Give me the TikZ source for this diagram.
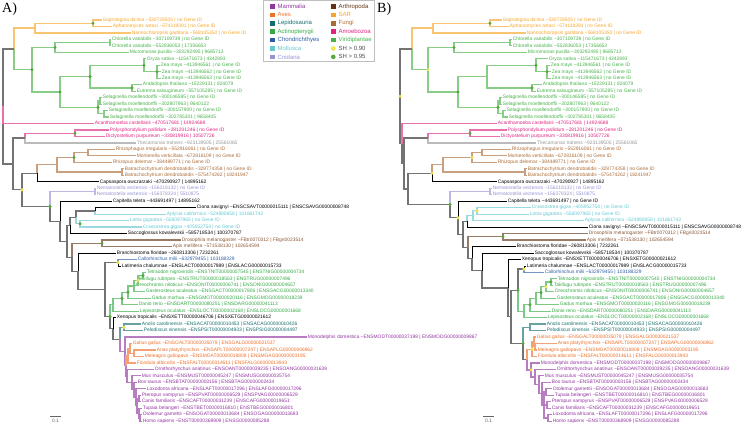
\documentclass[tikz,border=0pt]{standalone}
\usepackage{fontspec}
\setmainfont{Liberation Sans}
\newfontfamily\panelfont{Liberation Serif}
\usetikzlibrary{calc}

\definecolor{mamC}{RGB}{146,54,160}
\definecolor{aveC}{RGB}{238,112,42}
\definecolor{lepC}{RGB}{22,110,108}
\definecolor{actC}{RGB}{52,170,70}
\definecolor{choC}{RGB}{44,92,168}
\definecolor{molC}{RGB}{100,200,210}
\definecolor{cniC}{RGB}{150,148,210}
\definecolor{artC}{RGB}{96,52,20}
\definecolor{artT}{RGB}{140,90,55}
\definecolor{sarC}{RGB}{246,166,40}
\definecolor{funC}{RGB}{172,108,56}
\definecolor{amoC}{RGB}{224,36,128}
\definecolor{virC}{RGB}{70,178,72}
\definecolor{theC}{RGB}{150,150,150}
\definecolor{shyC}{RGB}{240,228,70}
\definecolor{shgC}{RGB}{88,168,60}

\newcommand\tld{\textasciitilde}
% leaf: name, tip x, row, colour, text
\newcommand\lfnode[5]{\node[lf,text=#4] (#1) at (#2,{20+(#3-1)*6.47}) {#5};}
% inner node: name, x, first child, last child
\newcommand\innode[4]{\path let \p1=($(#3)!.5!(#4)$) in coordinate (#1) at (#2pt,\y1);}
% elbow branches from a parent to its children
\newcommand\brs[3]{\foreach \kid in {#3}{\draw[#1] (#2) |- (\kid);}}
\newcommand\dotg[1]{\fill[shgC] (#1) circle (1.7pt);}
\newcommand\doty[1]{\fill[shyC] (#1) circle (1.7pt);}

\begin{document}
\begin{tikzpicture}[x=1pt, y=-1pt,
  lf/.style={anchor=west, inner sep=0.7pt, font=\fontsize{4.9}{5}\selectfont},
  bb/.style={draw=black!55, line width=1.3pt},
  lk/.style={draw=black, line width=0.7pt},
  ce/.style={draw=#1!65!white, line width=1.2pt},
  lg/.style={anchor=west, inner sep=0pt, font=\fontsize{6}{6}\selectfont},
  panel/.style={anchor=north west, inner sep=0pt, font=\panelfont\fontsize{14}{14}\selectfont}]
\useasboundingbox (0,0) rectangle (748,426);

% ---------------- tree A: leaves
\lfnode{asap}{102}{1}{sarC}{Saprolegnia diclina \tld530728505 | no Gene ID}
\lfnode{aaph}{112}{2}{sarC}{Aphanomyces astaci \tld574118391 | no Gene ID}
\lfnode{anan}{131}{3}{sarC}{Nannochloropsis gaditana \tld568105350 | no Gene ID}
\lfnode{achl1}{111}{4}{virC}{Chlorella variabilis \tld307109739 | no Gene ID}
\lfnode{achl2}{111}{5}{virC}{Chlorella variabilis \tld552836053 | 17356653}
\lfnode{amic}{129}{6}{virC}{Micromonas pusilla \tld303292495 | 9685713}
\lfnode{aory}{146}{7}{virC}{Oryza sativa \tld115471673 | 4342893}
\lfnode{azea1}{160}{8}{virC}{Zea mays \tld413946561 | no Gene ID}
\lfnode{azea2}{161}{9}{virC}{Zea mays \tld413946562 | no Gene ID}
\lfnode{azea3}{161}{10}{virC}{Zea mays \tld413946563 | no Gene ID}
\lfnode{aara}{142}{11}{virC}{Arabidopsis thaliana \tld15229131 | 824079}
\lfnode{aeut}{136}{12}{virC}{Eutrema salsugineum \tld557105285 | no Gene ID}
\lfnode{asel1}{102}{13}{virC}{Selaginella moellendorffii \tld300146595 | no Gene ID}
\lfnode{asel2}{102}{14}{virC}{Selaginella moellendorffii \tld302807963 | 9640122}
\lfnode{asel3}{108}{15}{virC}{Selaginella moellendorffii \tld300157900 | no Gene ID}
\lfnode{asel4}{109}{16}{virC}{Selaginella moellendorffii \tld302785301 | 9658405}
\lfnode{aaca}{94}{17}{amoC}{Acanthamoeba castellanii \tld470517681 | 14924688}
\lfnode{apol}{109}{18}{amoC}{Polysphondylium pallidum \tld281201246 | no Gene ID}
\lfnode{adic}{105}{19}{amoC}{Dictyostelium purpureum \tld330819916 | 10507726}
\lfnode{athe}{136}{20}{theC}{Thecamonas trahens \tld923139505 | 25561065}
\lfnode{arhi}{115}{21}{funC}{Rhizophagus irregularis \tld552916061 | no Gene ID}
\lfnode{amor}{136}{22}{funC}{Mortierella verticillata \tld672816109 | no Gene ID}
\lfnode{arde}{112}{23}{funC}{Rhizopus delemar \tld384489771 | no Gene ID}
\lfnode{abat1}{124}{24}{funC}{Batrachochytrium dendrobatidis \tld328774358 | no Gene ID}
\lfnode{abat2}{124}{25}{funC}{Batrachochytrium dendrobatidis \tld575474262 | 18241947}
\lfnode{acap}{99}{26}{black}{Capsaspora owczarzaki \tld470290927 | 14895162}
\lfnode{anem1}{96}{27}{cniC}{Nematostella vectensis \tld156218132 | no Gene ID}
\lfnode{anem2}{96}{28}{cniC}{Nematostella vectensis \tld156378324 | 5510875}
\lfnode{acpt}{112}{29}{black}{Capitella teleta \tld443691497 | 14895162}
\lfnode{acio}{196}{30}{black}{Ciona savignyi \tld ENSCSAVT00000015111 | ENSCSAVG00000008748}
\lfnode{aapl}{166}{31}{molC}{Aplysia californica \tld524890858 | 101861742}
\lfnode{alot}{129}{32}{molC}{Lottia gigantea \tld556097965 | no Gene ID}
\lfnode{acra}{142}{33}{molC}{Crassostrea gigas \tld405952754 | no Gene ID}
\lfnode{asac}{127}{34}{black}{Saccoglossus kowalevskii \tld585718534 | 100370787}
\lfnode{adro}{181}{35}{artT}{Drosophila melanogaster \tld FBtr0070312 | FBgn0023514}
\lfnode{aapi}{172}{36}{artT}{Apis mellifera \tld571538130 | 102654594}
\lfnode{abra}{116}{37}{black}{Branchiostoma floridae \tld260813306 | 7232261}
\lfnode{acal}{137}{38}{choC}{Callorhinchus milii \tld632979455 | 103188329}
\lfnode{alat}{121}{39}{black}{Latimeria chalumnae \tld ENSLACT00000017989 | ENSLACG00000015733}
\lfnode{atet}{146}{40}{actC}{Tetraodon nigroviridis \tld ENSTNIT00000007545 | ENSTNIG00000004734}
\lfnode{atak}{137}{41}{actC}{Takifugu rubripes \tld ENSTRUT00000018563 | ENSTRUG00000007496}
\lfnode{aore}{135}{42}{actC}{Oreochromis niloticus \tld ENSONIT00000006741 | ENSONIG00000004657}
\lfnode{agas}{145}{43}{actC}{Gasterosteus aculeatus \tld ENSGACT00000017806 | ENSGACG00000013340}
\lfnode{agad}{151}{44}{actC}{Gadus morhua \tld ENSGMOT00000020116 | ENSGMOG00000018239}
\lfnode{adan}{138}{45}{actC}{Danio rerio \tld ENSDART00000080251 | ENSDARG00000041113}
\lfnode{alep}{139}{46}{actC}{Lepisosteus oculatus \tld ENSLOCT00000002168 | ENSLOCG00000001668}
\lfnode{axen}{116}{47}{black}{Xenopus tropicalis \tld ENSXETT00000046706 | ENSXETG00000021612}
\lfnode{aano}{141}{48}{lepC}{Anolis carolinensis \tld ENSACAT00000010453 | ENSACAG00000010426}
\lfnode{apel}{143}{49}{lepC}{Pelodiscus sinensis \tld ENSPSIT00000004933 | ENSPSIG00000004497}
\lfnode{amod}{307}{50}{mamC}{Monodelphis domestica \tld ENSMODT00000037198 | ENSMODG00000009867}
\lfnode{agal}{132}{51}{aveC}{Gallus gallus \tld ENSGALT00000035079 | ENSGALG00000021537}
\lfnode{aana}{156}{52}{aveC}{Anas platyrhynchos \tld ENSAPLT00000007247 | ENSAPLG00000006962}
\lfnode{amel}{144}{53}{aveC}{Meleagris gallopavo \tld ENSMGAT00000018808 | ENSMGAG00000003195}
\lfnode{afic}{136}{54}{aveC}{Ficedula albicollis \tld ENSFALT00000014611 | ENSFALG00000013943}
\lfnode{aorn}{154}{55}{mamC}{Ornithorhynchus anatinus \tld ENSOANT00000039235 | ENSOANG00000031639}
\lfnode{amus}{141}{56}{mamC}{Mus musculus \tld ENSMUST00000045247 | ENSMUSG00000035754}
\lfnode{abos}{137}{57}{mamC}{Bos taurus \tld ENSBTAT00000003156 | ENSBTAG00000002434}
\lfnode{alox}{146}{58}{mamC}{Loxodonta africana \tld ENSLAFT00000017296 | ENSLAFG00000017296}
\lfnode{apte}{141}{59}{mamC}{Pteropus vampyrus \tld ENSPVAT00000006529 | ENSPVAG00000006529}
\lfnode{acan}{141}{60}{mamC}{Canis familiaris \tld ENSCAFT00000031239 | ENSCAFG00000019651}
\lfnode{atup}{142}{61}{mamC}{Tupaia belangeri \tld ENSTBET00000016810 | ENSTBEG00000016801}
\lfnode{aoto}{142}{62}{mamC}{Otolemur garnettii \tld ENSOGAT00000013684 | ENSOGAG00000013683}
\lfnode{ahom}{142}{63}{mamC}{Homo sapiens \tld ENST00000368909 | ENSG00000085288}

% ---------------- tree A: inner nodes, bottom up
\innode{aS1}{93}{asap}{aaph}
\innode{aSAR}{35}{aS1}{anan}
\innode{aC2}{110}{achl1}{achl2}
\innode{aC1}{55}{aC2}{amic}
\innode{aZ}{157}{azea1}{azea3}
\innode{aMo}{144}{aory}{aZ}
\innode{aEu}{132}{aara}{aeut}
\innode{aAn}{90}{aMo}{aEu}
\innode{aS12}{100}{asel1}{asel2}
\innode{aS34}{104}{asel3}{asel4}
\innode{aSel}{98}{aS12}{aS34}
\innode{aV2}{60}{aAn}{aSel}
\innode{aVir}{32}{aC1}{aV2}
\innode{aX1}{14}{aSAR}{aVir}
\innode{aDi}{75}{apol}{adic}
\innode{aAT}{25}{aDi}{athe}
\innode{aRM}{88}{arhi}{amor}
\innode{aRMR}{74}{aRM}{arde}
\innode{aBa}{122}{abat1}{abat2}
\innode{aFu}{57}{aRMR}{aBa}
\innode{aFC}{37}{aFu}{acap}
\innode{aNe}{95}{anem1}{anem2}
\innode{aCA}{95}{acio}{aapl}
\innode{aLC}{80}{alot}{acra}
\innode{aB5}{76}{aCA}{aLC}
\innode{aB3}{70}{aB5}{asac}
\innode{aAr}{102}{adro}{aapi}
\innode{aCL}{118}{acal}{alat}
\innode{aTT}{143}{atet}{atak}
\innode{aT3}{138}{aTT}{aore}
\innode{aT4}{134}{aT3}{agas}
\innode{aT5}{128}{aT4}{agad}
\innode{aT6}{122}{aT5}{adan}
\innode{aAc}{113}{aT6}{alep}
\innode{aRe}{124}{aano}{apel}
\innode{aAv3}{134}{aana}{amel}
\innode{aAv2}{130}{agal}{aAv3}
\innode{aAv}{128}{aAv2}{afic}
\innode{aE7}{140}{aoto}{ahom}
\innode{aE6}{139}{atup}{aE7}
\innode{aE5}{139}{apte}{acan}
\innode{aE4}{137}{aE5}{aE6}
\innode{aE3}{136}{alox}{aE4}
\innode{aE2}{134}{abos}{aE3}
\innode{aEu2}{132}{amus}{aE2}
\innode{aMa}{127}{aorn}{aEu2}
\innode{aAM}{126}{aAv}{aMa}
\innode{aMA}{125}{amod}{aAM}
\innode{aAm}{120}{aRe}{aMA}
\innode{aTe}{113}{axen}{aAm}
\innode{aOs}{110}{aAc}{aTe}
\innode{aVe}{105}{aCL}{aOs}
\innode{aDe}{78}{abra}{aVe}
\innode{aB4}{72}{aAr}{aDe}
\innode{aB2}{67}{aB3}{aB4}
\innode{aBi}{60}{acpt}{aB2}
\innode{aMe}{50}{aNe}{aBi}
\innode{aY1}{22}{aFC}{aMe}
\innode{aX2}{13}{aAT}{aY1}
\innode{aR}{3}{aX1}{aX2}

% ---------------- tree A: branches
\brs{ce=sarC}{aS1}{asap.west,aaph.west}
\brs{ce=sarC}{aSAR}{aS1,anan.west}
\brs{ce=sarC}{aX1}{aSAR}
\brs{ce=virC}{aC2}{achl1.west,achl2.west}
\brs{ce=virC}{aC1}{aC2,amic.west}
\brs{ce=virC}{aZ}{azea1.west,azea2.west,azea3.west}
\brs{ce=virC}{aMo}{aory.west,aZ}
\brs{ce=virC}{aEu}{aara.west,aeut.west}
\brs{ce=virC}{aAn}{aMo,aEu}
\brs{ce=virC}{aS12}{asel1.west,asel2.west}
\brs{ce=virC}{aS34}{asel3.west,asel4.west}
\brs{ce=virC}{aSel}{aS12,aS34}
\brs{ce=virC}{aV2}{aAn,aSel}
\brs{ce=virC}{aVir}{aC1,aV2}
\brs{ce=virC}{aX1}{aVir}
\brs{bb}{aR}{aX1,aX2}
\brs{ce=amoC}{aR}{aaca.west}
\brs{ce=amoC}{aDi}{apol.west,adic.west}
\brs{ce=amoC}{aAT}{aDi}
\brs{ce=theC}{aAT}{athe.west}
\brs{bb}{aX2}{aAT,aY1}
\brs{ce=funC}{aRM}{arhi.west,amor.west}
\brs{ce=funC}{aRMR}{aRM,arde.west}
\brs{ce=funC}{aBa}{abat1.west,abat2.west}
\brs{ce=funC}{aFu}{aRMR,aBa}
\brs{ce=funC}{aFC}{aFu}
\brs{lk}{aFC}{acap.west}
\brs{bb}{aY1}{aFC,aMe}
\brs{ce=cniC}{aNe}{anem1.west,anem2.west}
\brs{ce=cniC}{aMe}{aNe}
\brs{bb}{aMe}{aBi}
\brs{lk}{aBi}{acpt.west}
\brs{bb}{aBi}{aB2}
\brs{bb}{aB2}{aB3,aB4}
\brs{lk}{aCA}{acio.west}
\brs{ce=molC}{aCA}{aapl.west}
\brs{ce=molC}{aLC}{alot.west,acra.west}
\brs{bb}{aB5}{aCA}
\brs{ce=molC}{aB5}{aLC}
\brs{bb}{aB3}{aB5}
\brs{lk}{aB3}{asac.west}
\brs{ce=artC}{aAr}{adro.west,aapi.west}
\brs{ce=artC}{aB4}{aAr}
\brs{bb}{aB4}{aDe}
\brs{lk}{aDe}{abra.west}
\brs{bb}{aDe}{aVe}
\brs{ce=choC}{aCL}{acal.west}
\brs{lk}{aCL}{alat.west}
\brs{bb}{aVe}{aCL,aOs}
\brs{ce=actC}{aTT}{atet.west,atak.west}
\brs{ce=actC}{aT3}{aTT,aore.west}
\brs{ce=actC}{aT4}{aT3,agas.west}
\brs{ce=actC}{aT5}{aT4,agad.west}
\brs{ce=actC}{aT6}{aT5,adan.west}
\brs{ce=actC}{aAc}{aT6,alep.west}
\brs{ce=actC}{aOs}{aAc}
\brs{bb}{aOs}{aTe}
\brs{lk}{aTe}{axen.west}
\brs{bb}{aTe}{aAm}
\brs{ce=lepC}{aRe}{aano.west,apel.west}
\brs{ce=lepC}{aAm}{aRe}
\brs{ce=mamC}{aAm}{aMA}
\brs{ce=mamC}{aMA}{amod.west,aAM}
\brs{ce=aveC}{aAv3}{aana.west,amel.west}
\brs{ce=aveC}{aAv2}{agal.west,aAv3}
\brs{ce=aveC}{aAv}{aAv2,afic.west}
\brs{ce=aveC}{aAM}{aAv}
\brs{ce=mamC}{aAM}{aMa}
\brs{ce=mamC}{aMa}{aorn.west,aEu2}
\brs{ce=mamC}{aEu2}{amus.west,aE2}
\brs{ce=mamC}{aE2}{abos.west,aE3}
\brs{ce=mamC}{aE3}{alox.west,aE4}
\brs{ce=mamC}{aE4}{aE5,aE6}
\brs{ce=mamC}{aE5}{apte.west,acan.west}
\brs{ce=mamC}{aE6}{atup.west,aE7}
\brs{ce=mamC}{aE7}{aoto.west,ahom.west}

% SH support, tree A
\foreach \n in {aS1,aC1,aZ,aMo,aEu,aAn,aSel,aV2,aVir,aDi,aRMR,aMe,aLC,aAr,aTT,aT5,aT6,aOs} {\dotg{\n}}
\foreach \n in {aY1,aCL,aT3,aRe} {\doty{\n}}

% ---------------- tree B: leaves
\lfnode{bsap}{502}{1}{sarC}{Saprolegnia diclina \tld530728505 | no Gene ID}
\lfnode{baph}{509}{2}{sarC}{Aphanomyces astaci \tld574118391 | no Gene ID}
\lfnode{bnan}{526}{3}{sarC}{Nannochloropsis gaditana \tld568105350 | no Gene ID}
\lfnode{bchl1}{512}{4}{virC}{Chlorella variabilis \tld307109739 | no Gene ID}
\lfnode{bchl2}{512}{5}{virC}{Chlorella variabilis \tld552836053 | 17356653}
\lfnode{bmic}{527}{6}{virC}{Micromonas pusilla \tld303292495 | 9685713}
\lfnode{bory}{548}{7}{virC}{Oryza sativa \tld115471673 | 4342893}
\lfnode{bzea1}{550}{8}{virC}{Zea mays \tld413946561 | no Gene ID}
\lfnode{bzea2}{551}{9}{virC}{Zea mays \tld413946562 | no Gene ID}
\lfnode{bzea3}{551}{10}{virC}{Zea mays \tld413946563 | no Gene ID}
\lfnode{bara}{542}{11}{virC}{Arabidopsis thaliana \tld15229131 | 824079}
\lfnode{beut}{536}{12}{virC}{Eutrema salsugineum \tld557105285 | no Gene ID}
\lfnode{bsel1}{502}{13}{virC}{Selaginella moellendorffii \tld300146595 | no Gene ID}
\lfnode{bsel2}{502}{14}{virC}{Selaginella moellendorffii \tld302807963 | 9640122}
\lfnode{bsel3}{506}{15}{virC}{Selaginella moellendorffii \tld300157900 | no Gene ID}
\lfnode{bsel4}{508}{16}{virC}{Selaginella moellendorffii \tld302785301 | 9658405}
\lfnode{baca}{497}{17}{amoC}{Acanthamoeba castellanii \tld470517681 | 14924688}
\lfnode{bpol}{507}{18}{amoC}{Polysphondylium pallidum \tld281201246 | no Gene ID}
\lfnode{bdic}{500}{19}{amoC}{Dictyostelium purpureum \tld330819916 | 10507726}
\lfnode{bthe}{536}{20}{theC}{Thecamonas trahens \tld923139505 | 25561065}
\lfnode{brhi}{511}{21}{funC}{Rhizophagus irregularis \tld552916061 | no Gene ID}
\lfnode{bmor}{507}{22}{funC}{Mortierella verticillata \tld672816109 | no Gene ID}
\lfnode{brde}{497}{23}{funC}{Rhizopus delemar \tld384489771 | no Gene ID}
\lfnode{bbat1}{527}{24}{funC}{Batrachochytrium dendrobatidis \tld328774358 | no Gene ID}
\lfnode{bbat2}{527}{25}{funC}{Batrachochytrium dendrobatidis \tld575474262 | 18241947}
\lfnode{bcap}{497}{26}{black}{Capsaspora owczarzaki \tld470290927 | 14895162}
\lfnode{bnem1}{492}{27}{cniC}{Nematostella vectensis \tld156218132 | no Gene ID}
\lfnode{bnem2}{492}{28}{cniC}{Nematostella vectensis \tld156378324 | 5510875}
\lfnode{bcpt}{507}{29}{black}{Capitella teleta \tld443691497 | no Gene ID}
\lfnode{bcra}{531}{30}{molC}{Crassostrea gigas \tld405952754 | no Gene ID}
\lfnode{blot}{529}{31}{molC}{Lottia gigantea \tld556097965 | no Gene ID}
\lfnode{bapl}{584}{32}{molC}{Aplysia californica \tld524890858 | 101861742}
\lfnode{bcio}{588}{33}{black}{Ciona savignyi \tld ENSCSAVT00000015111 | ENSCSAVG00000008748}
\lfnode{bdro}{588}{34}{artT}{Drosophila melanogaster \tld FBtr0070312 | FBgn0023514}
\lfnode{bapi}{586}{35}{artT}{Apis mellifera \tld571538130 | 102654594}
\lfnode{bbra}{516}{36}{black}{Branchiostoma floridae \tld260813306 | 7232261}
\lfnode{bsac}{534}{37}{black}{Saccoglossus kowalevskii \tld585718534 | 100370787}
\lfnode{bxen}{521}{38}{black}{Xenopus tropicalis \tld ENSXETT00000046706 | ENSXETG00000021612}
\lfnode{blat}{526}{39}{black}{Latimeria chalumnae \tld ENSLACT00000017989 | ENSLACG00000015733}
\lfnode{bcal}{544}{40}{choC}{Callorhinchus milii \tld632979455 | 103188329}
\lfnode{btet}{557}{41}{actC}{Tetraodon nigroviridis \tld ENSTNIT00000007545 | ENSTNIG00000004734}
\lfnode{btak}{553}{42}{actC}{Takifugu rubripes \tld ENSTRUT00000018563 | ENSTRUG00000007496}
\lfnode{bore}{554}{43}{actC}{Oreochromis niloticus \tld ENSONIT00000006741 | ENSONIG00000004657}
\lfnode{bgas}{556}{44}{actC}{Gasterosteus aculeatus \tld ENSGACT00000017806 | ENSGACG00000013340}
\lfnode{bgad}{559}{45}{actC}{Gadus morhua \tld ENSGMOT00000020116 | ENSGMOG00000018239}
\lfnode{bdan}{551}{46}{actC}{Danio rerio \tld ENSDART00000080251 | ENSDARG00000041113}
\lfnode{blep}{547}{47}{actC}{Lepisosteus oculatus \tld ENSLOCT00000002168 | ENSLOCG00000001668}
\lfnode{bano}{546}{48}{lepC}{Anolis carolinensis \tld ENSACAT00000010453 | ENSACAG00000010426}
\lfnode{bpel}{546}{49}{lepC}{Pelodiscus sinensis \tld ENSPSIT00000004933 | ENSPSIG00000004497}
\lfnode{bgal}{536}{50}{aveC}{Gallus gallus \tld ENSGALT00000035079 | ENSGALG00000021537}
\lfnode{bana}{557}{51}{aveC}{Anas platyrhynchos \tld ENSAPLT00000007247 | ENSAPLG00000006962}
\lfnode{bmel}{537}{52}{aveC}{Meleagris gallopavo \tld ENSMGAT00000018808 | ENSMGAG00000003195}
\lfnode{bfic}{537}{53}{aveC}{Ficedula albicollis \tld ENSFALT00000014611 | ENSFALG00000013943}
\lfnode{bmod}{540}{54}{mamC}{Monodelphis domestica \tld ENSMODT00000037198 | ENSMODG00000009867}
\lfnode{born}{556}{55}{mamC}{Ornithorhynchus anatinus \tld ENSOANT00000039235 | ENSOANG00000031639}
\lfnode{bmus}{544}{56}{mamC}{Mus musculus \tld ENSMUST00000045247 | ENSMUSG00000035754}
\lfnode{bbos}{551}{57}{mamC}{Bos taurus \tld ENSBTAT00000003156 | ENSBTAG00000002434}
\lfnode{boto}{552}{58}{mamC}{Otolemur garnettii \tld ENSOGAT00000013684 | ENSOGAG00000013683}
\lfnode{btup}{554}{59}{mamC}{Tupaia belangeri \tld ENSTBET00000016810 | ENSTBEG00000016801}
\lfnode{bpte}{551}{60}{mamC}{Pteropus vampyrus \tld ENSPVAT00000006529 | ENSPVAG00000006529}
\lfnode{bcan}{551}{61}{mamC}{Canis familiaris \tld ENSCAFT00000031239 | ENSCAFG00000019651}
\lfnode{blox}{552}{62}{mamC}{Loxodonta africana \tld ENSLAFT00000017296 | ENSLAFG00000017296}
\lfnode{bhom}{552}{63}{mamC}{Homo sapiens \tld ENST00000368909 | ENSG00000085288}

% ---------------- tree B: inner nodes, bottom up
\innode{bS1}{490}{bsap}{baph}
\innode{bSAR}{433}{bS1}{bnan}
\innode{bC2}{510}{bchl1}{bchl2}
\innode{bC1}{454}{bC2}{bmic}
\innode{bZ}{547}{bzea1}{bzea3}
\innode{bMo}{536}{bory}{bZ}
\innode{bEu}{532}{bara}{beut}
\innode{bAn}{487}{bMo}{bEu}
\innode{bS12}{500}{bsel1}{bsel2}
\innode{bS34}{503}{bsel3}{bsel4}
\innode{bSel}{498}{bS12}{bS34}
\innode{bV2}{458}{bAn}{bSel}
\innode{bVir}{428}{bC1}{bV2}
\innode{bX1}{412}{bSAR}{bVir}
\innode{bDi}{470}{bpol}{bdic}
\innode{bAT}{428}{bDi}{bthe}
\innode{bRM}{482}{brhi}{bmor}
\innode{bRMR}{472}{bRM}{brde}
\innode{bBa}{525}{bbat1}{bbat2}
\innode{bFu}{443}{bRMR}{bBa}
\innode{bFC}{432}{bFu}{bcap}
\innode{bNe}{490}{bnem1}{bnem2}
\innode{bCL}{477}{bcra}{blot}
\innode{bMol}{473}{bCL}{bapl}
\innode{bMC}{467}{bMol}{bcio}
\innode{bAr}{503}{bdro}{bapi}
\innode{bLC}{524}{blat}{bcal}
\innode{bTT}{551}{btet}{btak}
\innode{bA5}{546}{bTT}{bore}
\innode{bA4}{541}{bA5}{bgas}
\innode{bA3}{536}{bA4}{bgad}
\innode{bA2}{530}{bA3}{bdan}
\innode{bAc}{524}{bA2}{blep}
\innode{bV3}{518}{bLC}{bAc}
\innode{bRe}{530}{bano}{bpel}
\innode{bAv3}{535}{bana}{bmel}
\innode{bAv2}{534}{bgal}{bAv3}
\innode{bAv}{532}{bAv2}{bfic}
\innode{bM8}{548}{blox}{bhom}
\innode{bM7}{547}{bpte}{bcan}
\innode{bM6}{546}{boto}{btup}
\innode{bM5}{544}{bM6}{bM8}
\innode{bM4}{542}{bbos}{bM5}
\innode{bM3}{539}{bmus}{bM4}
\innode{bM2}{535}{born}{bM3}
\innode{bMa}{531}{bmod}{bM2}
\innode{bAM}{527}{bAv}{bMa}
\innode{bAm}{523}{bRe}{bAM}
\innode{bVt}{511}{bV3}{bAm}
\innode{bVe}{508}{bxen}{bVt}
\innode{bD2}{482}{bsac}{bVe}
\innode{bDe}{472}{bbra}{bD2}
\innode{bAD}{468}{bAr}{bDe}
\innode{bBB}{463}{bMC}{bAD}
\innode{bBi}{458}{bcpt}{bBB}
\innode{bMe}{450}{bNe}{bBi}
\innode{bFM}{408}{bFC}{bMe}
\innode{bX3}{404}{bAT}{bFM}
\innode{bX2}{402}{baca}{bX3}
\innode{bR}{400}{bX1}{bX2}

% ---------------- tree B: branches
\brs{ce=sarC}{bS1}{bsap.west,baph.west}
\brs{ce=sarC}{bSAR}{bS1,bnan.west}
\brs{ce=sarC}{bX1}{bSAR}
\brs{ce=virC}{bC2}{bchl1.west,bchl2.west}
\brs{ce=virC}{bC1}{bC2,bmic.west}
\brs{ce=virC}{bZ}{bzea1.west,bzea2.west,bzea3.west}
\brs{ce=virC}{bMo}{bory.west,bZ}
\brs{ce=virC}{bEu}{bara.west,beut.west}
\brs{ce=virC}{bAn}{bMo,bEu}
\brs{ce=virC}{bS12}{bsel1.west,bsel2.west}
\brs{ce=virC}{bS34}{bsel3.west,bsel4.west}
\brs{ce=virC}{bSel}{bS12,bS34}
\brs{ce=virC}{bV2}{bAn,bSel}
\brs{ce=virC}{bVir}{bC1,bV2}
\brs{ce=virC}{bX1}{bVir}
\brs{bb}{bR}{bX1,bX2}
\brs{ce=amoC}{bX2}{baca.west}
\brs{bb}{bX2}{bX3}
\brs{ce=amoC}{bDi}{bpol.west,bdic.west}
\brs{ce=amoC}{bAT}{bDi}
\brs{ce=theC}{bAT}{bthe.west}
\brs{bb}{bX3}{bAT,bFM}
\brs{ce=funC}{bRM}{brhi.west,bmor.west}
\brs{ce=funC}{bRMR}{bRM,brde.west}
\brs{ce=funC}{bBa}{bbat1.west,bbat2.west}
\brs{ce=funC}{bFu}{bRMR,bBa}
\brs{ce=funC}{bFC}{bFu}
\brs{lk}{bFC}{bcap.west}
\brs{bb}{bFM}{bFC,bMe}
\brs{ce=cniC}{bNe}{bnem1.west,bnem2.west}
\brs{ce=cniC}{bMe}{bNe}
\brs{bb}{bMe}{bBi}
\brs{lk}{bBi}{bcpt.west}
\brs{bb}{bBi}{bBB}
\brs{ce=molC}{bCL}{bcra.west,blot.west}
\brs{ce=molC}{bMol}{bCL,bapl.west}
\brs{ce=molC}{bMC}{bMol}
\brs{lk}{bMC}{bcio.west}
\brs{bb}{bBB}{bMC,bAD}
\brs{ce=artC}{bAr}{bdro.west,bapi.west}
\brs{ce=artC}{bAD}{bAr}
\brs{bb}{bAD}{bDe}
\brs{lk}{bDe}{bbra.west}
\brs{bb}{bDe}{bD2}
\brs{lk}{bD2}{bsac.west}
\brs{bb}{bD2}{bVe}
\brs{lk}{bVe}{bxen.west}
\brs{bb}{bVe}{bVt}
\brs{bb}{bVt}{bV3,bAm}
\brs{lk}{bLC}{blat.west}
\brs{ce=choC}{bLC}{bcal.west}
\brs{bb}{bV3}{bLC}
\brs{ce=actC}{bTT}{btet.west,btak.west}
\brs{ce=actC}{bA5}{bTT,bore.west}
\brs{ce=actC}{bA4}{bA5,bgas.west}
\brs{ce=actC}{bA3}{bA4,bgad.west}
\brs{ce=actC}{bA2}{bA3,bdan.west}
\brs{ce=actC}{bAc}{bA2,blep.west}
\brs{ce=actC}{bV3}{bAc}
\brs{ce=lepC}{bRe}{bano.west,bpel.west}
\brs{ce=lepC}{bAm}{bRe}
\brs{bb}{bAm}{bAM}
\brs{ce=aveC}{bAv3}{bana.west,bmel.west}
\brs{ce=aveC}{bAv2}{bgal.west,bAv3}
\brs{ce=aveC}{bAv}{bAv2,bfic.west}
\brs{ce=aveC}{bAM}{bAv}
\brs{ce=mamC}{bAM}{bMa}
\brs{ce=mamC}{bMa}{bmod.west,bM2}
\brs{ce=mamC}{bM2}{born.west,bM3}
\brs{ce=mamC}{bM3}{bmus.west,bM4}
\brs{ce=mamC}{bM4}{bbos.west,bM5}
\brs{ce=mamC}{bM5}{bM6,bM7,bM8}
\brs{ce=mamC}{bM6}{boto.west,btup.west}
\brs{ce=mamC}{bM7}{bpte.west,bcan.west}
\brs{ce=mamC}{bM8}{blox.west,bhom.west}

% SH support, tree B
\foreach \n in {bS1,bC1,bZ,bMo,bEu,bSel,bV2,bDi,bMe,bAr,bTT,bA4,bA2,bV3,bAm} {\dotg{\n}}
\foreach \n in {bR,bVir,bRMR,bFC,bBi,bCL,bLC,bA5,bAv,bMa} {\doty{\n}}

% scale bars
\coordinate (scA1) at (50,416); \coordinate (scA2) at (61,416);
\draw[black!60, line width=0.8pt] (scA1) -- (scA2) node[lf, anchor=north, midway, yshift=-1.5pt] (scAt) {0.1};
\coordinate (scB1) at (483,416); \coordinate (scB2) at (494,416);
\draw[black!60, line width=0.8pt] (scB1) -- (scB2) node[lf, anchor=north, midway, yshift=-1.5pt] (scBt) {0.1};

% panel letters
\node[panel] (pA) at (2,3) {A)};
\node[panel] (pB) at (377,3) {B)};

% legend
\draw[black!25, line width=0.5pt] (263.5,0.5) rectangle (374,61.5);
\foreach \t/\col [count=\i from 0] in {Mammalia/mamC, Aves/aveC, Lepidosauria/lepC, Actinopterygii/actC, Chondrichthyes/choC, Mollusca/molC, Cnidaria/cniC} {
  \fill[\col] (270,{6.5+8.4*\i-2.3}) rectangle ++(4.6,4.6);
  \node[lg, text=\col] (lgl\i) at (277.5,{6.5+8.4*\i}) {\t};
}
\foreach \t/\col [count=\i from 0] in {Arthropoda/artC, SAR/sarC, Fungi/funC, Amoebozoa/amoC, Viridiplantae/virC} {
  \fill[\col] (331,{6.5+8.4*\i-2.3}) rectangle ++(4.6,4.6);
  \node[lg, text=\col] (lgr\i) at (338.5,{6.5+8.4*\i}) {\t};
}
\fill[shyC] (333.3,48.5) circle (2.3pt);
\node[lg, text=black!70] (lgy) at (338.5,48.5) {SH > 0.90};
\fill[shgC] (333.3,56.9) circle (2.3pt);
\node[lg, text=black!70] (lgg) at (338.5,56.9) {SH > 0.95};
\end{tikzpicture}
\end{document}
